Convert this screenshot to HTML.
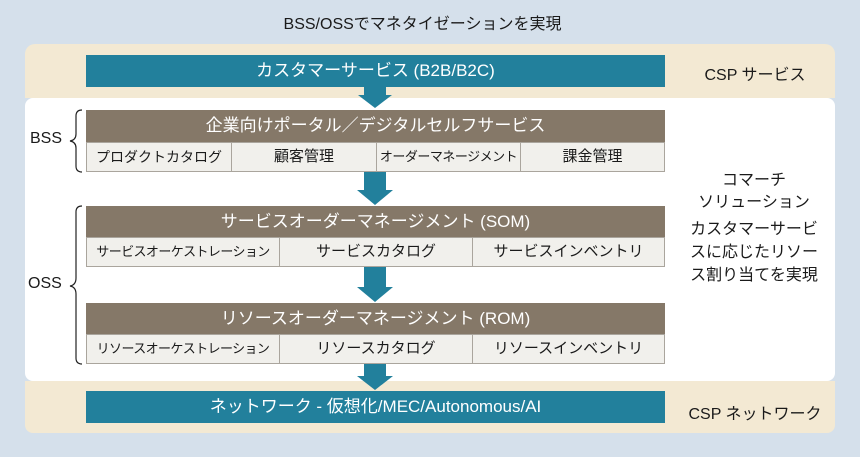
<!DOCTYPE html>
<html><head><meta charset="utf-8"><style>
body{margin:0;width:860px;height:457px;background:#d5e0eb;font-family:"Liberation Sans","Noto Sans CJK JP",sans-serif;position:relative;overflow:hidden;color:#1a1a1a}
.a{position:absolute}
.t{position:absolute;text-align:center;white-space:nowrap}
.blue{background:#22809c;color:#fff;font-size:17px;line-height:32px;text-align:center}
.brown{background:#857868;color:#fff;font-size:17px;line-height:31px;text-align:center}
.row{display:flex;border:1px solid #aaa59d;background:#f1f0ec;box-sizing:border-box}
.row div{flex:none;border-right:1px solid #aaa59d;font-size:14px;line-height:28px;text-align:center;white-space:nowrap;overflow:hidden;box-sizing:border-box}
.row div:last-child{border-right:none}
</style></head><body>
<div class="t" style="left:0;width:845px;top:10px;font-size:16px">BSS/OSSでマネタイゼーションを実現</div>
<div class="a" style="left:25px;top:44px;width:810px;height:54px;background:#f3e9d3;border-radius:10px 10px 0 0"></div>
<div class="a" style="left:25px;top:98px;width:810px;height:283px;background:#fff;border-radius:8px"></div>
<div class="a" style="left:25px;top:381px;width:810px;height:52px;background:#f3e9d3;border-radius:0 0 8px 8px"></div>

<div class="a blue" style="left:86px;top:55px;width:579px;height:32px">カスタマーサービス (B2B/B2C)</div>
<div class="t" style="left:680px;width:150px;top:61px;font-size:16px">CSP サービス</div>

<div class="a brown" style="left:86px;top:110px;width:579px;height:32px">企業向けポータル／デジタルセルフサービス</div>
<div class="a row" style="left:86px;top:142px;width:579px;height:30px">
<div style="width:145px">プロダクトカタログ</div><div style="width:145px;font-size:15px">顧客管理</div><div style="width:144px;font-size:13px;letter-spacing:-0.5px">オーダーマネージメント</div><div style="width:143px;font-size:15px">課金管理</div></div>

<div class="a brown" style="left:86px;top:206px;width:579px;height:31px">サービスオーダーマネージメント (SOM)</div>
<div class="a row" style="left:86px;top:237px;width:579px;height:30px">
<div style="width:193px;font-size:13px;letter-spacing:-0.6px">サービスオーケストレーション</div><div style="width:193px;font-size:15px">サービスカタログ</div><div style="width:191px;font-size:15px">サービスインベントリ</div></div>

<div class="a brown" style="left:86px;top:303px;width:579px;height:31px">リソースオーダーマネージメント (ROM)</div>
<div class="a row" style="left:86px;top:334px;width:579px;height:30px">
<div style="width:193px;font-size:13px;letter-spacing:-0.6px">リソースオーケストレーション</div><div style="width:193px;font-size:15px">リソースカタログ</div><div style="width:191px;font-size:15px">リソースインベントリ</div></div>

<div class="a blue" style="left:86px;top:391px;width:579px;height:32px">ネットワーク - 仮想化/MEC/Autonomous/AI</div>
<div class="t" style="left:680px;width:150px;top:400px;font-size:16px">CSP ネットワーク</div>

<div class="t" style="left:670px;width:168px;top:170px;font-size:16px;line-height:22px">コマーチ<br>ソリューション</div>
<div class="t" style="left:670px;width:168px;top:218px;font-size:16px;line-height:23px">カスタマーサービ<br>スに応じたリソー<br>ス割り当てを実現</div>

<div class="t" style="left:30px;top:130px;font-size:16px">BSS</div>
<div class="t" style="left:28px;top:275px;font-size:16px">OSS</div>

<svg class="a" style="left:0;top:0" width="860" height="457">
<g fill="#22809c">
<polygon points="364,87 386,87 386,95 392,95 375,108 358,95 364,95"/>
<polygon points="364,172 386,172 386,190 393,190 375,205 357,190 364,190"/>
<polygon points="364,267 386,267 386,287 393,287 375,302 357,287 364,287"/>
<polygon points="364,364 386,364 386,376 393,376 375,390 357,376 364,376"/>
</g>
<g fill="none" stroke="#222" stroke-width="1.2">
<path d="M82,110 Q76,110 76,116 L76,134 Q76,140 70,141 Q76,142 76,148 L76,166 Q76,172 82,172"/>
<path d="M82,206 Q76,206 76,212 L76,278 Q76,285 70,286 Q76,287 76,294 L76,358 Q76,364 82,364"/>
</g>
</svg>
</body></html>
